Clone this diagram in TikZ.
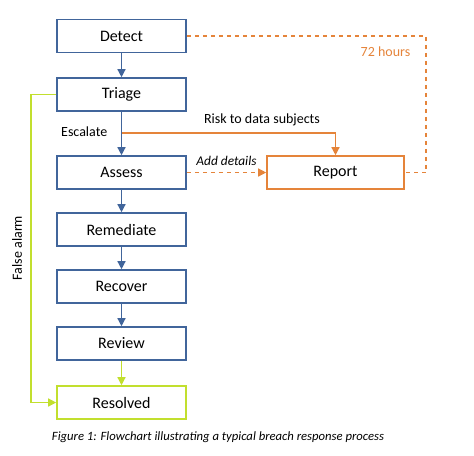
\documentclass[tikz,border=0pt]{standalone}
\usepackage{fontspec}
\setmainfont{Carlito}
\usetikzlibrary{arrows.meta}

\definecolor{stepblue}{HTML}{41659B}
\definecolor{reportorange}{HTML}{E5843A}
\definecolor{alarmgreen}{HTML}{C2DF2E}

\tikzset{
  stepbox/.style={draw=stepblue, line width=1.2pt, minimum width=96.75pt, minimum height=24.75pt, inner sep=0pt, font=\fontsize{12}{14}\selectfont},
  tip/.style={-{Triangle[width=6pt,length=6pt]}},
  flow/.style={stepblue, line width=1pt, tip},
  lbl/.style={font=\fontsize{10.5}{12}\selectfont}
}

\begin{document}
\begin{tikzpicture}[x=0.75pt,y=-0.75pt]
      % Canvas (pixel units of the reference)
      \useasboundingbox (0,0) rectangle (474,455);

      % Main column of steps
      \node[stepbox] (detect)    at (121.5,36)  {Detect};
      \node[stepbox] (triage)    at (121.5,94.5) {Triage};
      \node[stepbox] (assess)    at (121.5,172.5) {Assess};
      \node[stepbox] (remediate) at (121.5,229.5) {Remediate};
      \node[stepbox] (recover)   at (121.5,286.5) {Recover};
      \node[stepbox] (review)    at (121.5,343.5) {Review};
      \node[stepbox, draw=alarmgreen] (resolved) at (121.5,402.5) {Resolved};

      % Report box on the right
      \node[stepbox, draw=reportorange, minimum width=102.75pt] (report) at (335.5,172.5) {Report};

      % Blue arrows down the column
      \draw[flow] (detect) -- (triage);
      \draw[flow] (triage) -- (assess);
      \draw[flow] (assess) -- (remediate);
      \draw[flow] (remediate) -- (recover);
      \draw[flow] (recover) -- (review);
      \draw[flow, alarmgreen] (review) -- (resolved);

      % Escalate branch to Report
      \coordinate (esc) at (121.5,133);
      \node[lbl, anchor=east] at (112,132) {Escalate};
      \draw[flow, reportorange] (esc) -| (report.north);
      \node[lbl] at (262,119.5) {Risk to data subjects};

      % Add details (dashed)
      \draw[flow, reportorange, dashed] (assess) -- (report)
        node[midway, above=1pt, text=black, font=\fontsize{10}{12}\selectfont\itshape] {Add details};

      % 72 hours deadline (dashed)
      \coordinate (corner) at (426,36);
      \draw[reportorange, line width=1pt, dashed] (detect.east) -- (corner) |- (report.east);
      \node[lbl, text=reportorange, anchor=east] at (415,52) {72 hours};

      % False alarm shortcut
      \coordinate (alarm) at (31,94.5);
      \draw[flow, alarmgreen] (triage.west) -- (alarm) |- (resolved.west);
      \node[lbl, rotate=90] at (17,248) {False alarm};

      % Caption
      \node[font=\fontsize{9.5}{11}\selectfont\itshape] at (218,437.5) {Figure 1: Flowchart illustrating a typical breach response process};
\end{tikzpicture}
\end{document}
